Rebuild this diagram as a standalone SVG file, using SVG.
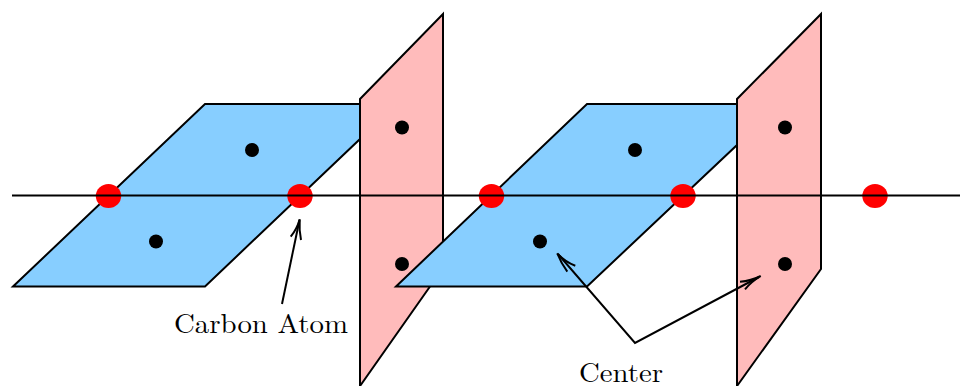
<svg xmlns="http://www.w3.org/2000/svg" width="960" height="386" viewBox="0 0 960 386">
<style>
.s{stroke:#000;stroke-width:2;stroke-linejoin:miter}
.b{fill:#87ceff}
.p{fill:#ffbbbb}
.c{fill:#ff0000}
.d{fill:#000}
.a{fill:none;stroke:#000;stroke-width:2}
.t{font-family:"Latin Modern Roman","Liberation Serif",serif;font-size:27px;fill:#000}
</style>
<rect width="960" height="386" fill="#fff"/>
<g id="blue-plane-1"><polygon class="b s" points="13,286.5 205,104 360,104 360,139 205,286.5"/></g>
<g id="pink-plane-1"><polygon class="p s" points="360,99 443,14 443,268 360,386 360,99"/></g>
<g id="blue-plane-2"><polygon class="b s" points="396,286.5 587,104 737,104 737,145 587,286.5"/></g>
<g id="pink-plane-2"><polygon class="p s" points="737,99 821,14 821,269 737,386 737,99"/></g>
<g id="carbon-atoms">
<ellipse class="c" cx="108.5" cy="196" rx="12.7" ry="12"/>
<ellipse class="c" cx="300" cy="196" rx="12.7" ry="12"/>
<ellipse class="c" cx="491.5" cy="196" rx="12.7" ry="12"/>
<ellipse class="c" cx="683" cy="196" rx="12.7" ry="12"/>
<ellipse class="c" cx="875" cy="196" rx="12.7" ry="12"/>
</g>
<g id="centers">
<circle class="d" cx="252" cy="150" r="7"/>
<circle class="d" cx="156" cy="241.5" r="7"/>
<circle class="d" cx="402" cy="127.5" r="7"/>
<circle class="d" cx="402" cy="264" r="7"/>
<circle class="d" cx="635" cy="150" r="7"/>
<circle class="d" cx="540" cy="241.5" r="7"/>
<circle class="d" cx="785" cy="127.5" r="7"/>
<circle class="d" cx="785" cy="264" r="7"/>
</g>
<g id="connectors">
<path class="a" d="M12,195.5H960"/>
<path class="a" d="M282,304L299.5,220"/>
<path class="a" d="M290.7,236.7Q297,229 299.7,219.3Q299,230 301,240"/>
<path class="a" d="M558,254L635,343L759,277"/>
<path class="a" d="M575.3,265.7Q565,262 557.3,253.3Q561,263 567.3,271.7"/>
<path class="a" d="M740,281.7Q751,281 760.7,276Q751,282 745,289.3"/>
</g>
<g id="label-carbon-atom"><text class="t" x="174" y="333" textLength="174" lengthAdjust="spacingAndGlyphs">Carbon Atom</text></g>
<g id="label-center"><text class="t" x="579" y="382" textLength="84" lengthAdjust="spacingAndGlyphs">Center</text></g>
</svg>
